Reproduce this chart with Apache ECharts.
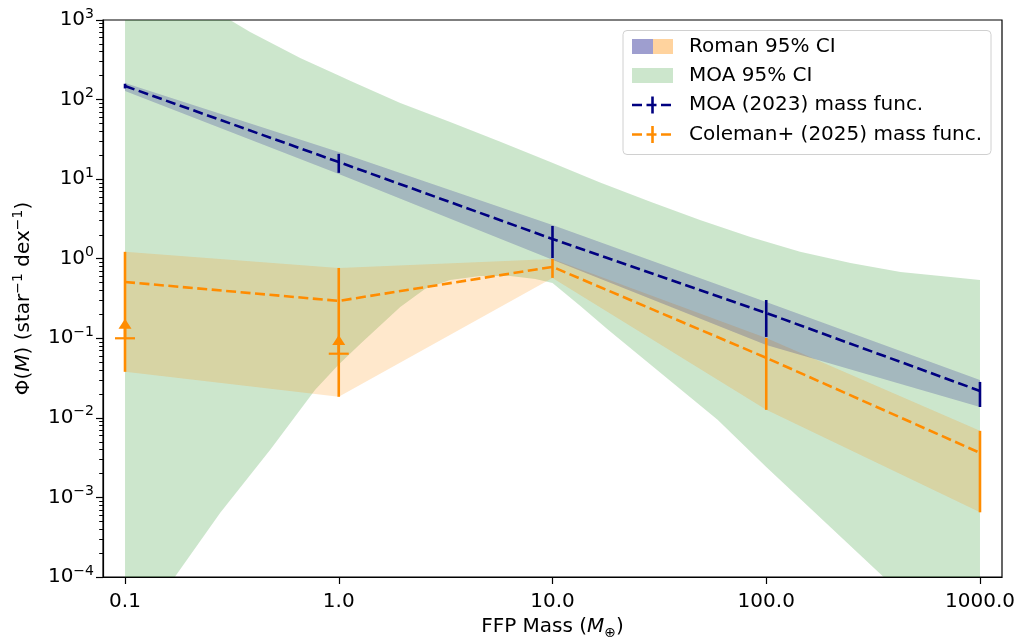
<!DOCTYPE html>
<html><head><meta charset="utf-8">
<script src="https://cdn.jsdelivr.net/npm/echarts@6/dist/echarts.min.js"></script>
<style>html,body{margin:0;padding:0;background:#fff}#c{width:1016px;height:637px}</style>
</head><body><div id="c"></div><script>
// ---------------- data ----------------
const massNodes = [0.1, 1, 10, 100, 1000];
const moaMassFunc = [148, 16.4, 1.77, 0.208, 0.0218];
const moaErrLow = [138, 12.0, 1.02, 0.104, 0.0137];
const moaErrHigh = [158, 20.8, 2.58, 0.303, 0.0283];
const colemanMassFunc = [0.51, 0.295, 0.79, 0.0568, 0.00363];
const colemanErrLow = [0.0379, 0.0184, 0.574, 0.0126, 0.00065];
const colemanErrHigh = [1.22, 0.766, 0.994, 0.101, 0.00687];
const romanMoaLow = [128, 11.6, 0.97, 0.0826, 0.0137];
const romanMoaHigh = [162, 22, 2.66, 0.286, 0.030];
const romanColemanLow = [0.0379, 0.0184, 0.574, 0.0126, 0.00065];
const romanColemanHigh = [1.22, 0.766, 0.994, 0.101, 0.00687];
const moaCiUpperMass = [0.1, 0.31, 0.385, 0.66, 1.0, 1.13, 1.94, 3.32, 5.7, 9.78, 16.7, 28.7, 49, 84.3, 144, 248, 425, 728, 1000];
const moaCiUpper = [10000, 1000, 706, 333, 200, 172, 90.6, 52.4, 29.5, 16.4, 9.1, 5.18, 3.07, 1.88, 1.22, 0.885, 0.683, 0.59, 0.54];
const moaCiLowerMass = [0.1, 0.171, 0.279, 0.478, 0.776, 1.0, 1.26, 1.94, 2.54, 3.32, 4.59, 6.34, 8.3, 10, 13.5, 18.2, 59.2, 100, 354, 1000];
const moaCiLower = [1.4e-5, 1e-4, 6.4e-4, 3.96e-3, 0.0225, 0.047, 0.085, 0.248, 0.418, 0.542, 0.608, 0.608, 0.557, 0.497, 0.255, 0.128, 0.00944, 0.00242, 1e-4, 7e-6];
const lowerLimitMass = [0.1, 1];
const lowerLimitValue = [0.1, 0.064];
const lowerLimitArrow = [0.15, 0.094];
const xTickValues = [0.1, 1, 10, 100, 1000];
const xTickLabels = ['0.1', '1.0', '10.0', '100.0', '1000.0'];
const yTickExponents = [-4, -3, -2, -1, 0, 1, 2, 3];

// ---------------- styles ----------------
const FONT = 'DejaVu Sans';
const NAVY = '#000080';
const ORANGE = '#ff8c00';
const GREEN_FILL = 'rgba(0,128,0,0.2)';
const NAVY_FILL = 'rgba(0,0,128,0.2)';
const ORANGE_FILL = 'rgba(255,140,0,0.2)';
const DASH = [10, 4.5];

const yMajor = yTickExponents.map(e => Math.pow(10, e));
const yMinor = [];
for (let i = 0; i < yTickExponents.length - 1; i++) {
  for (let k = 2; k <= 9; k++) yMinor.push(k * Math.pow(10, yTickExponents[i]));
}

function polygonBand(name, upX, upY, loX, loY, color, z) {
  return {
    type: 'custom', name: name, coordinateSystem: 'cartesian2d', clip: true, z: z, silent: true,
    data: upX.map((x, i) => [x, upY[i]]),
    encode: { x: 0, y: 1 },
    renderItem: function (params, api) {
      if (params.dataIndex !== 0) return null;
      const pts = [];
      for (let i = 0; i < upX.length; i++) pts.push(api.coord([upX[i], upY[i]]));
      for (let i = loX.length - 1; i >= 0; i--) pts.push(api.coord([loX[i], loY[i]]));
      return { type: 'polygon', shape: { points: pts }, style: { fill: color } };
    }
  };
}

function errorBars(name, xs, lo, hi, color, z) {
  return {
    type: 'custom', name: name, coordinateSystem: 'cartesian2d', clip: true, z: z, silent: true,
    data: xs.map((x, i) => [x, lo[i], hi[i]]),
    encode: { x: 0, y: [1, 2] },
    renderItem: function (params, api) {
      const p1 = api.coord([api.value(0), api.value(1)]);
      const p2 = api.coord([api.value(0), api.value(2)]);
      return { type: 'line', shape: { x1: p1[0], y1: p1[1], x2: p2[0], y2: p2[1] },
               style: { stroke: color, lineWidth: 2.6 } };
    }
  };
}

function dashedLine(name, xs, ys, color, z) {
  return {
    type: 'line', name: name, z: z, silent: true, symbol: 'none', animation: false,
    data: xs.map((x, i) => [x, ys[i]]),
    lineStyle: { color: color, width: 2.6, type: DASH }
  };
}

const lowerLimits = {
  type: 'custom', name: 'lower limits', coordinateSystem: 'cartesian2d', clip: true, z: 9, silent: true,
  data: lowerLimitMass.map((x, i) => [x, lowerLimitValue[i], lowerLimitArrow[i]]),
  encode: { x: 0, y: [1, 2] },
  renderItem: function (params, api) {
    const p = api.coord([api.value(0), api.value(1)]);
    const a = api.coord([api.value(0), api.value(2)]);
    return {
      type: 'group', children: [
        { type: 'line', shape: { x1: p[0] - 10, y1: p[1], x2: p[0] + 10, y2: p[1] }, style: { stroke: ORANGE, lineWidth: 2.2 } },
        { type: 'line', shape: { x1: p[0], y1: p[1], x2: a[0], y2: a[1] }, style: { stroke: ORANGE, lineWidth: 2.6 } },
        { type: 'polygon', shape: { points: [[a[0], a[1] - 5.5], [a[0] - 6.5, a[1] + 4.5], [a[0] + 6.5, a[1] + 4.5]] }, style: { fill: ORANGE } }
      ]
    };
  }
};

const chart = echarts.init(document.getElementById('c'), null, { renderer: 'canvas' });

const legendRows = [46.5, 75.5, 105, 134.5];
const legendTexts = ['Roman 95% CI', 'MOA 95% CI', 'MOA (2023) mass func.', 'Coleman+ (2025) mass func.'];
const graphics = [
  { type: 'rect', z: 100, shape: { x: 623, y: 30.5, width: 368, height: 124, r: 4 },
    style: { fill: 'rgba(255,255,255,0.8)', stroke: '#d0d0d0', lineWidth: 1 } },
  { type: 'rect', z: 101, shape: { x: 632, y: legendRows[0] - 7.5, width: 21, height: 15 }, style: { fill: 'rgba(0,0,128,0.38)' } },
  { type: 'rect', z: 101, shape: { x: 653, y: legendRows[0] - 7.5, width: 20, height: 15 }, style: { fill: 'rgba(255,140,0,0.38)' } },
  { type: 'rect', z: 101, shape: { x: 632, y: legendRows[1] - 7.5, width: 41, height: 15 }, style: { fill: GREEN_FILL } },
  { type: 'line', z: 101, shape: { x1: 632, y1: legendRows[2], x2: 673, y2: legendRows[2] }, style: { stroke: NAVY, lineWidth: 2.6, lineDash: DASH } },
  { type: 'line', z: 101, shape: { x1: 652.5, y1: legendRows[2] - 8.5, x2: 652.5, y2: legendRows[2] + 8.5 }, style: { stroke: NAVY, lineWidth: 2.6 } },
  { type: 'line', z: 101, shape: { x1: 632, y1: legendRows[3], x2: 673, y2: legendRows[3] }, style: { stroke: ORANGE, lineWidth: 2.6, lineDash: DASH } },
  { type: 'line', z: 101, shape: { x1: 652.5, y1: legendRows[3] - 8.5, x2: 652.5, y2: legendRows[3] + 8.5 }, style: { stroke: ORANGE, lineWidth: 2.6 } }
];
legendTexts.forEach((t, i) => graphics.push({
  type: 'text', z: 101, x: 689, y: legendRows[i],
  style: { text: t, fill: '#000', font: '20px "DejaVu Sans"', textVerticalAlign: 'middle', verticalAlign: 'middle' }
}));

const option = {
  animation: false,
  textStyle: { fontFamily: FONT },
  grid: { left: 103, top: 20, right: 14, bottom: 60, show: true, borderColor: '#000', borderWidth: 1.2,
          backgroundColor: 'transparent', containLabel: false, outerBoundsMode: 'none' },
  xAxis: {
    type: 'log', logBase: 10, min: 0.07889, max: 1267.7,
    axisLine: { show: true, onZero: false, lineStyle: { color: '#000', width: 1.2 } },
    axisTick: { show: true, length: 7, lineStyle: { color: '#000', width: 1.2 }, customValues: xTickValues },
    axisLabel: {
      customValues: xTickValues, color: '#000', fontSize: 20, fontFamily: FONT, margin: 15,
      formatter: function (v) {
        let best = 0;
        for (let i = 1; i < xTickValues.length; i++)
          if (Math.abs(Math.log10(xTickValues[i]) - Math.log10(v)) < Math.abs(Math.log10(xTickValues[best]) - Math.log10(v))) best = i;
        return xTickLabels[best];
      }
    },
    splitLine: { show: false }, minorTick: { show: false },
    name: '{n|FFP Mass (}{i|M}{sub|\u2295}{n|)}', nameLocation: 'middle', nameGap: 28,
    nameTextStyle: {
      color: '#000', fontFamily: FONT,
      rich: {
        n: { fontSize: 20, fontFamily: FONT, color: '#000', lineHeight: 26 },
        i: { fontSize: 20, fontFamily: FONT, fontStyle: 'italic', color: '#000', lineHeight: 26 },
        sub: { fontSize: 14, fontFamily: FONT, color: '#000', lineHeight: 16, verticalAlign: 'bottom' }
      }
    }
  },
  yAxis: [{
    type: 'log', logBase: 10, min: 1e-4, max: 1e3, position: 'left',
    axisLine: { show: true, onZero: false, lineStyle: { color: '#000', width: 1.2 } },
    axisTick: { show: true, length: 7, lineStyle: { color: '#000', width: 1.2 }, customValues: yMajor },
    axisLabel: {
      customValues: yMajor, color: '#000', margin: 9,
      formatter: function (v) {
        const e = Math.round(Math.log10(v));
        return '{b|10}{s|' + (e < 0 ? '\u2212' + (-e) : String(e)) + '}';
      },
      rich: {
        b: { fontSize: 20, fontFamily: FONT, color: '#000', lineHeight: 26 },
        s: { fontSize: 14, fontFamily: FONT, color: '#000', lineHeight: 16, verticalAlign: 'top' }
      }
    },
    splitLine: { show: false }, minorTick: { show: false },
    name: '{n|\u03a6(}{i|M}{n|) (star}{s|\u22121}{n| dex}{s|\u22121}{n|)}',
    nameLocation: 'middle', nameGap: 66, nameRotate: 90,
    nameTextStyle: {
      color: '#000', fontFamily: FONT,
      rich: {
        n: { fontSize: 20, fontFamily: FONT, color: '#000', lineHeight: 26 },
        i: { fontSize: 20, fontFamily: FONT, fontStyle: 'italic', color: '#000', lineHeight: 26 },
        s: { fontSize: 14, fontFamily: FONT, color: '#000', lineHeight: 16, verticalAlign: 'top' }
      }
    }
  }, {
    type: 'log', logBase: 10, min: 1e-4, max: 1e3, position: 'left', offset: 0,
    axisLine: { show: false },
    axisTick: { show: true, length: 3.8, lineStyle: { color: '#000', width: 1 }, customValues: yMinor },
    axisLabel: { show: false },
    splitLine: { show: false }
  }],
  series: [
    polygonBand('MOA 95% CI', moaCiUpperMass, moaCiUpper, moaCiLowerMass, moaCiLower, GREEN_FILL, 1),
    polygonBand('Roman 95% CI (Coleman)', massNodes, romanColemanHigh, massNodes, romanColemanLow, ORANGE_FILL, 2),
    polygonBand('Roman 95% CI (MOA)', massNodes, romanMoaHigh, massNodes, romanMoaLow, NAVY_FILL, 3),
    dashedLine('MOA (2023) mass func.', massNodes, moaMassFunc, NAVY, 5),
    errorBars('MOA errors', massNodes, moaErrLow, moaErrHigh, NAVY, 6),
    dashedLine('Coleman+ (2025) mass func.', massNodes, colemanMassFunc, ORANGE, 7),
    errorBars('Coleman errors', massNodes, colemanErrLow, colemanErrHigh, ORANGE, 8),
    lowerLimits
  ],
  graphic: graphics
};
chart.setOption(option);
</script></body></html>
